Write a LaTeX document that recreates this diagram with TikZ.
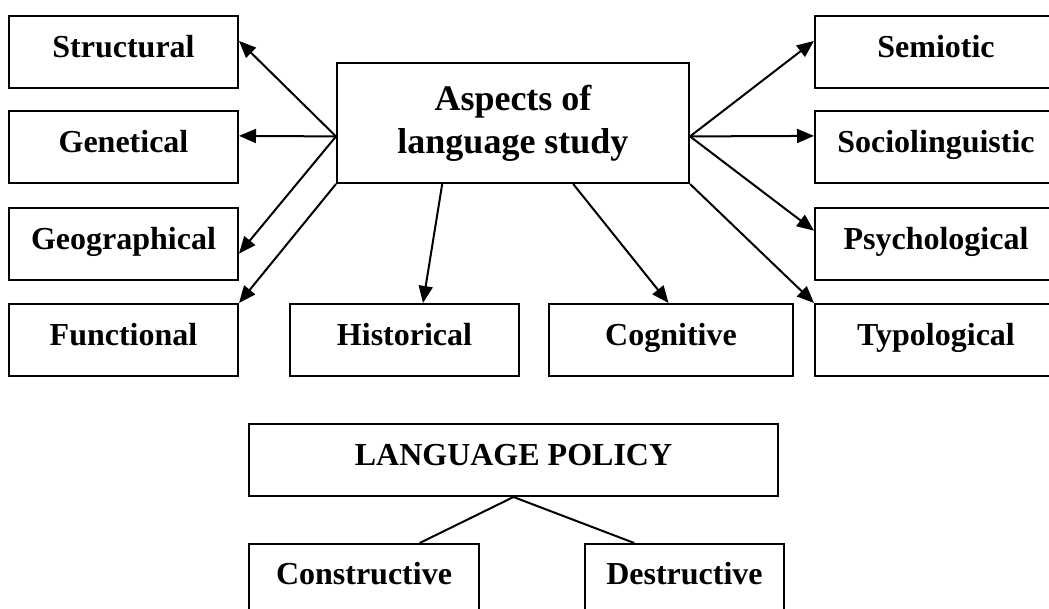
\documentclass[tikz,border=0pt]{standalone}
\usepackage{fontspec}
\setmainfont{Liberation Serif}
\usetikzlibrary{arrows.meta,calc}
\begin{document}
\begin{tikzpicture}[x=1pt,y=-1pt,
  box/.style={draw,line width=2pt,inner sep=0pt,anchor=north west,
    font=\fontsize{32}{38}\selectfont\bfseries,text height=41pt,text depth=31pt},
  tallbox/.style={box,text height=40pt,text depth=80pt},
  link/.style={line width=2pt},
  arr/.style={link,-{Triangle[length=17pt,width=14pt]}}]
\useasboundingbox (0,0) rectangle (1049,608);
\clip (0,0) rectangle (1049,608);

% central box
\node[draw,line width=2pt,anchor=north west,inner sep=0pt,
  minimum width=352pt,minimum height=120pt,align=center,
  font=\fontsize{36}{43}\selectfont\bfseries] (c) at (336,62) {Aspects of\\language study};

% left column
\node[box,minimum width=229pt] (st) at (8,15)  {Structural};
\node[box,minimum width=229pt] (ge) at (8,110) {Genetical};
\node[box,minimum width=229pt] (gg) at (8,207) {Geographical};
\node[box,minimum width=229pt] (fu) at (8,303) {Functional};

% bottom row
\node[box,minimum width=229pt] (hi) at (289,303) {Historical};
\node[box,minimum width=244pt] (cg) at (548,303) {Cognitive};

% right column
\node[box,minimum width=242pt] (se) at (814,15)  {Semiotic};
\node[box,minimum width=242pt] (so) at (814,110) {Sociolinguistic};
\node[box,minimum width=242pt] (ps) at (814,207) {Psychological};
\node[box,minimum width=242pt] (ty) at (814,303) {Typological};

% arrow origins on the sides of the central box
\coordinate (cl) at ($(c.north west)!0.61!(c.south west)$);
\coordinate (cr) at ($(c.north east)!0.61!(c.south east)$);

\draw[arr] (cl) -- ($(st.north east)!0.35!(st.south east)$);
\draw[arr] (cl) -- ($(ge.north east)!0.35!(ge.south east)$);
\draw[arr] (cl) -- ($(gg.north east)!0.63!(gg.south east)$);
\draw[arr] (c.south west) -- (fu.north east);

\draw[arr] ($(c.south west)!0.30!(c.south east)$) -- ($(hi.north west)!0.58!(hi.north east)$);
\draw[arr] ($(c.south west)!0.67!(c.south east)$) -- ($(cg.north west)!0.49!(cg.north east)$);

\draw[arr] (cr) -- ($(se.north west)!0.35!(se.south west)$);
\draw[arr] (cr) -- ($(so.north west)!0.35!(so.south west)$);
\draw[arr] (cr) -- ($(ps.north west)!0.32!(ps.south west)$);
\draw[arr] (c.south east) -- (ty.north west);

% language policy tree
\node[box,minimum width=529pt] (lp) at (248,423) {LANGUAGE POLICY};
\node[tallbox,minimum width=230pt] (co) at (248,543) {Constructive};
\node[tallbox,minimum width=199pt] (de) at (584,543) {Destructive};

\draw[link] ($(co.north west)!0.74!(co.north east)$) -- (lp.south)
  -- ($(de.north west)!0.25!(de.north east)$);
\end{tikzpicture}
\end{document}
